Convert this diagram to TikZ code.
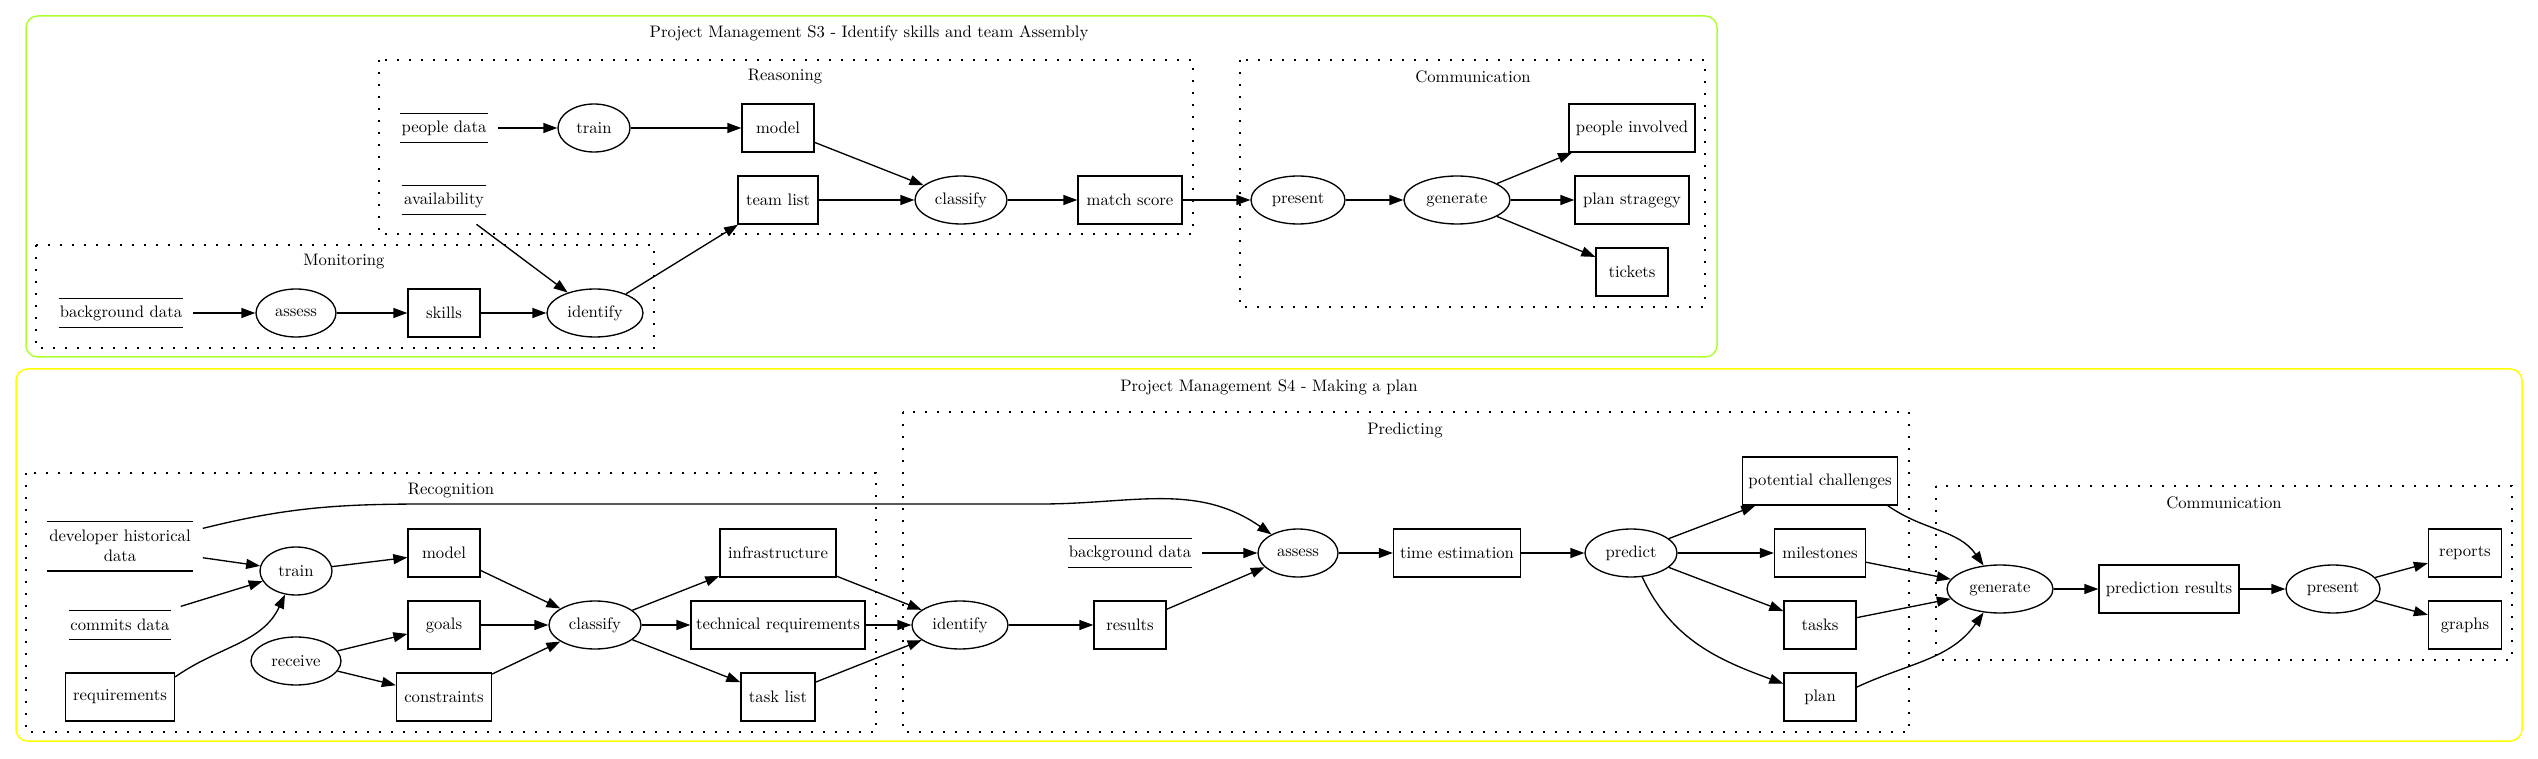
\documentclass[tikz,border=0pt]{standalone}
\usepackage{tikz}
\usetikzlibrary{shapes.geometric,arrows.meta}
\definecolor{frameA}{HTML}{ADFF2F}
\definecolor{frameB}{HTML}{FFFF00}

\begin{document}
\begin{tikzpicture}[x=0.6pt,y=0.6pt,
    wd/.style={minimum width=#1*0.6pt},
    proc/.style={ellipse,draw,line width=0.8pt,inner sep=0pt,minimum height=28.8pt},
    item/.style={rectangle,draw,line width=0.8pt,inner sep=0pt,minimum height=28.8pt},
    store/.style={inner sep=0pt,minimum height=28.8pt,
        append after command={
            ([shift={(6pt,-6pt)}]\tikzlastnode.north west) edge[line width=0.8pt] ([shift={(-6pt,-6pt)}]\tikzlastnode.north east)
            ([shift={(6pt,6pt)}]\tikzlastnode.south west) edge[line width=0.8pt] ([shift={(-6pt,6pt)}]\tikzlastnode.south east)}},
    group/.style={draw,line width=0.7pt,dash pattern=on 1.2pt off 6pt},
    frame/.style={draw,line width=0.9pt,rounded corners=7pt},
    flow/.style={-{Triangle[length=8.4pt,width=6pt]},line width=0.8pt}
]
\useasboundingbox (0,0) rectangle (2538,-759);

% S3 frame and its groups
\draw[frame,frameA] (26,-16) rectangle (1717,-357);
\node (s3title) at (869,-33) {Project Management S3 - Identify skills and team Assembly};
\draw[group] (379,-60) rectangle (1193,-234);
\node (reasonlbl) at (785,-77) {Reasoning};
\draw[group] (1240,-60) rectangle (1705,-307);
\node (commlblA) at (1473,-77) {Communication};
\draw[group] (36,-245) rectangle (654,-348);
\node (monitorlbl) at (344,-262) {Monitoring};

% Reasoning
\node[store,wd=108] (pdata) at (444,-128) {people data};
\node[proc,wd=72] (trainA) at (594,-128) {train};
\node[item,wd=72] (modelA) at (778,-128) {model};
\node[store,wd=103] (avail) at (444,-200) {availability};
\node[item,wd=80] (team) at (778,-200) {team list};
\node[proc,wd=92] (classifyA) at (961,-200) {classify};
\node[item,wd=104] (match) at (1130,-200) {match score};

% Communication (S3)
\node[proc,wd=94] (presentA) at (1298,-200) {present};
\node[proc,wd=106] (generateA) at (1457,-200) {generate};
\node[item,wd=126] (people) at (1632,-128) {people involved};
\node[item,wd=114] (strategy) at (1632,-200) {plan stragegy};
\node[item,wd=72] (tickets) at (1632,-272) {tickets};

% Monitoring
\node[store,wd=144] (bgA) at (121,-313) {background data};
\node[proc,wd=80] (assessA) at (296,-313) {assess};
\node[item,wd=72] (skills) at (444,-313) {skills};
\node[proc,wd=96] (identifyA) at (595,-313) {identify};

% S3 flows
\draw[flow] (pdata) -- (trainA);
\draw[flow] (trainA) -- (modelA);
\draw[flow] (modelA) -- (classifyA);
\draw[flow] (team) -- (classifyA);
\draw[flow] (classifyA) -- (match);
\draw[flow] (match) -- (presentA);
\draw[flow] (presentA) -- (generateA);
\draw[flow] (generateA) -- (people);
\draw[flow] (generateA) -- (strategy);
\draw[flow] (generateA) -- (tickets);
\draw[flow] (bgA) -- (assessA);
\draw[flow] (assessA) -- (skills);
\draw[flow] (skills) -- (identifyA);
\draw[flow] (avail) -- (identifyA);
\draw[flow] (identifyA) -- (team);

% S4 frame and its groups
\draw[frame,frameB] (16,-369) rectangle (2522,-741);
\node (s4title) at (1269,-387) {Project Management S4 - Making a plan};
\draw[group] (26,-473) rectangle (876,-732);
\node (recoglbl) at (451,-491) {Recognition};
\draw[group] (903,-412) rectangle (1909,-732);
\node (predictlbl) at (1405,-430) {Predicting};
\draw[group] (1936,-486) rectangle (2512,-660);
\node (commlblB) at (2224,-503) {Communication};

% Recognition
\node[store,wd=165,minimum height=41.4pt,align=center] (devhist) at (120,-546) {developer historical\\data};
\node[store,wd=121] (commits) at (120,-625) {commits data};
\node[item,wd=109] (req) at (120,-697) {requirements};
\node[proc,wd=72] (trainB) at (296,-571) {train};
\node[proc,wd=90] (receive) at (296,-661) {receive};
\node[item,wd=72] (modelB) at (444,-553) {model};
\node[item,wd=72] (goals) at (444,-625) {goals};
\node[item,wd=95] (constr) at (444,-697) {constraints};
\node[proc,wd=92] (classifyB) at (595,-625) {classify};
\node[item,wd=116] (infra) at (778,-553) {infrastructure};
\node[item,wd=174] (techreq) at (778,-625) {technical requirements};
\node[item,wd=74] (tasklist) at (778,-697) {task list};

% Predicting
\node[proc,wd=96] (identifyB) at (960,-625) {identify};
\node[item,wd=72] (results) at (1130,-625) {results};
\node[store,wd=144] (bgB) at (1130,-553) {background data};
\node[proc,wd=80] (assessB) at (1298,-553) {assess};
\node[item,wd=127] (timeest) at (1457,-553) {time estimation};
\node[proc,wd=92] (predict) at (1631,-553) {predict};
\node[item,wd=155] (challenges) at (1820,-481) {potential challenges};
\node[item,wd=91] (milestones) at (1820,-553) {milestones};
\node[item,wd=72] (tasks) at (1820,-625) {tasks};
\node[item,wd=72] (plan) at (1820,-697) {plan};

% Communication (S4)
\node[proc,wd=106] (generateB) at (2000,-589) {generate};
\node[item,wd=140] (predres) at (2169,-589) {prediction results};
\node[proc,wd=94] (presentB) at (2333,-589) {present};
\node[item,wd=73] (reports) at (2465,-553) {reports};
\node[item,wd=73] (graphs) at (2465,-625) {graphs};

% S4 flows
\coordinate (devbendA) at (430,-504);
\coordinate (devbendB) at (1041,-504);
\draw[flow] (devhist.12) to[out=14,in=180] (devbendA) -- (devbendB) to[out=0,in=145] (assessB);
\draw[flow] (devhist) -- (trainB);
\draw[flow] (commits) -- (trainB);
\draw[flow] (req.20) to[out=35,in=245] (trainB);
\draw[flow] (trainB) -- (modelB);
\draw[flow] (receive) -- (goals);
\draw[flow] (receive) -- (constr);
\draw[flow] (modelB) -- (classifyB);
\draw[flow] (goals) -- (classifyB);
\draw[flow] (constr) -- (classifyB);
\draw[flow] (classifyB) -- (infra);
\draw[flow] (classifyB) -- (techreq);
\draw[flow] (classifyB) -- (tasklist);
\draw[flow] (infra) -- (identifyB);
\draw[flow] (techreq) -- (identifyB);
\draw[flow] (tasklist) -- (identifyB);
\draw[flow] (identifyB) -- (results);
\draw[flow] (results) -- (assessB);
\draw[flow] (bgB) -- (assessB);
\draw[flow] (assessB) -- (timeest);
\draw[flow] (timeest) -- (predict);
\draw[flow] (predict) -- (challenges);
\draw[flow] (predict) -- (milestones);
\draw[flow] (predict) -- (tasks);
\draw[flow] (predict) to[out=-65,in=160] (plan);
\draw[flow] (challenges.-20) to[out=-35,in=125] (generateB);
\draw[flow] (milestones) -- (generateB);
\draw[flow] (tasks) -- (generateB);
\draw[flow] (plan.15) to[out=25,in=235] (generateB);
\draw[flow] (generateB) -- (predres);
\draw[flow] (predres) -- (presentB);
\draw[flow] (presentB) -- (reports);
\draw[flow] (presentB) -- (graphs);

\end{tikzpicture}
\end{document}
